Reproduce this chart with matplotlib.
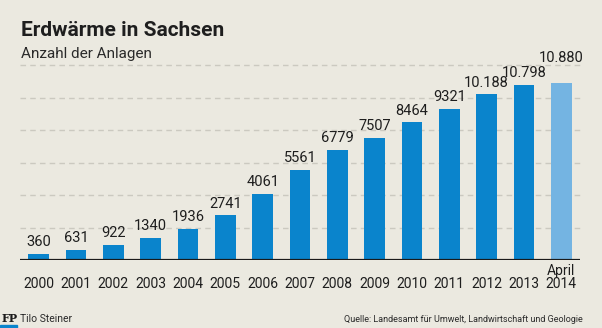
import matplotlib.pyplot as plt
from matplotlib.patches import Rectangle

# Erdwärme-Anlagen in Sachsen
years = ["2000", "2001", "2002", "2003", "2004", "2005", "2006", "2007",
         "2008", "2009", "2010", "2011", "2012", "2013", "2014"]
anlagen = [360, 631, 922, 1340, 1936, 2741, 4061, 5561,
           6779, 7507, 8464, 9321, 10188, 10798, 10880]
wert_labels = ["360", "631", "922", "1340", "1936", "2741", "4061", "5561",
               "6779", "7507", "8464", "9321", "10.188", "10.798", "10.880"]
grid_werte = [2000, 4000, 6000, 8000, 10000, 12000]

bg = "#EBE9E0"
blau = "#0A84CC"
hellblau = "#74B4E2"
schrift = "#1E1E1E"

plt.rcParams["font.family"] = ["Roboto", "DejaVu Sans"]

fig = plt.figure(figsize=(6.02, 3.28), dpi=100, facecolor=bg)
W, H = 602, 328
ax = fig.add_axes([20 / W, (H - 260) / H, 560 / W, 195 / H])
ax.set_facecolor(bg)

x = list(range(len(years)))
farben = [blau] * (len(years) - 1) + [hellblau]
ax.bar(x, anlagen, width=0.56, color=farben, zorder=2)

for g in grid_werte:
    ax.axhline(g, color="#CBC9C0", lw=1.0, ls=(0, (4, 3)), zorder=1,
               xmax=1.004, clip_on=False)
ax.axhline(0, color="#1A1A1A", lw=1.6, zorder=3)

# Werte über den Säulen, der letzte (April 2014) etwas höher
for i, (xi, v, t) in enumerate(zip(x, anlagen, wert_labels)):
    dy = 18 if i == len(x) - 1 else 8.5
    ax.annotate(t, (xi, v), xytext=(0, dy), textcoords="offset points",
                ha="center", va="center", fontsize=10.5, color=schrift,
                annotation_clip=False)

ax.set_xlim(-0.5, 14.5)
ax.set_ylim(0, 12000)
ax.set_xticks([])
ax.set_yticks([])
for s in ax.spines.values():
    s.set_visible(False)

# Jahresbeschriftung unter der Achse
for xi, y in zip(x, years):
    fig.text((20 + (xi + 0.5) * 560 / 15) / W, (H - 288) / H, y,
             ha="center", va="baseline", fontsize=10, color=schrift)
fig.text((20 + 14.5 * 560 / 15) / W, (H - 275) / H, "April",
         ha="center", va="baseline", fontsize=10, color=schrift)

fig.text(21 / W, 1 - 30 / H, "Erdwärme in Sachsen", fontsize=15,
         fontweight="bold", color=schrift, va="center", ha="left")
fig.text(21 / W, 1 - 54 / H, "Anzahl der Anlagen", fontsize=11,
         color="#2A2A2A", va="center", ha="left")

# Fußzeile
fig.text(2 / W, 1 - 319 / H, "FP", fontsize=8, fontweight="bold",
         family="DejaVu Serif", color="#1A1A1A", va="center", ha="left")
fig.patches.append(Rectangle((0, 0), 17 / W, 3 / H, transform=fig.transFigure,
                             color=blau))
fig.text(20 / W, 1 - 319 / H, "Tilo Steiner", fontsize=7.5,
         color="#2A2A2A", va="center", ha="left")
fig.text(583 / W, 1 - 320 / H,
         "Quelle: Landesamt für Umwelt, Landwirtschaft und Geologie",
         fontsize=6.5, color="#2A2A2A", va="center", ha="right")

fig.savefig("out.png", dpi=100, facecolor=bg)
